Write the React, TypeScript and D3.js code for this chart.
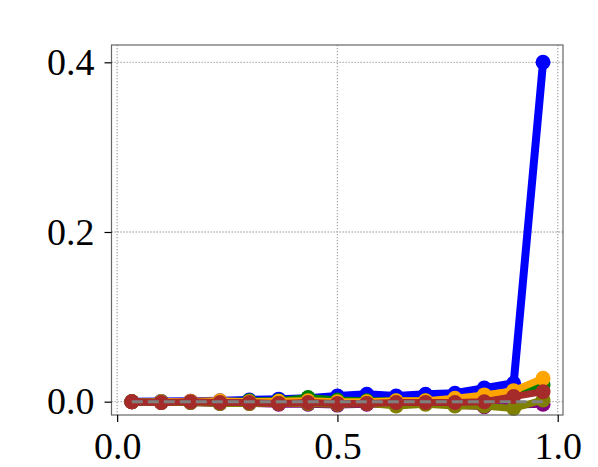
import * as d3 from "d3";
import { useEffect, useRef } from "react";

const width = 598;
const height = 467;
const margin = { top: 45, right: 35, bottom: 52, left: 111.5 };

const xValues = [
  0.0333, 0.1, 0.1667, 0.2333, 0.3, 0.3667, 0.4333, 0.5, 0.5667, 0.6333, 0.7,
  0.7667, 0.8333, 0.9, 0.9667,
];

const blueValues = [
  0, 0.0003, 0.0005, 0.001, 0.002, 0.003, 0.004, 0.0067, 0.0087, 0.0067,
  0.0087, 0.0099, 0.016, 0.0217, 0.4,
];
const greenValues = [
  0, 0, 0, 0, 0.001, 0.001, 0.005, 0.002, 0.001, 0.001, 0.001, 0.002, 0.004,
  0.009, 0.02,
];
const orangeValues = [
  0, 0, 0.0005, 0.001, 0, 0.0005, 0.001, 0, 0, 0.001, 0.001, 0.004, 0.008,
  0.013, 0.0275,
];
const purpleValues = [
  0, -0.001, -0.001, -0.002, -0.002, -0.003, -0.003, -0.004, -0.003, -0.003,
  -0.002, -0.004, -0.006, -0.004, -0.003,
];
const oliveValues = [
  0, -0.001, -0.001, -0.002, -0.002, -0.002, -0.002, -0.003, -0.002, -0.005,
  -0.003, -0.005, -0.005, -0.008, 0.002,
];
const brownValues = [
  0, -0.001, 0, -0.001, -0.001, -0.002, -0.001, -0.002, -0.002, -0.001,
  -0.001, -0.001, 0, 0.006, 0.0118,
];
const baselineValues = [0, 0, 0, 0, 0, 0, 0, 0, 0, 0, 0, 0, 0, 0, 0];

const seriesList = [
  { name: "blue", color: "#0000ff", values: blueValues, lineWidth: 8 },
  { name: "green", color: "#008000", values: greenValues, lineWidth: 7 },
  { name: "orange", color: "#ffa500", values: orangeValues, lineWidth: 7 },
  { name: "purple", color: "#800080", values: purpleValues, lineWidth: 7 },
  { name: "olive", color: "#808000", values: oliveValues, lineWidth: 7 },
  { name: "brown", color: "#a52a2a", values: brownValues, lineWidth: 7 },
];

const xTicks = [0, 0.5, 1.0];
const yTicks = [0, 0.2, 0.4];

export default function App() {
  const svgRef = useRef<SVGSVGElement | null>(null);

  useEffect(() => {
    if (!svgRef.current) return;
    document.body.style.margin = "0";
    drawChart(svgRef.current);
  }, []);

  return (
    <svg
      ref={svgRef}
      width={width}
      height={height}
      style={{ display: "block", background: "#ffffff" }}
    />
  );
}

function drawChart(svgElement: SVGSVGElement) {
  const svg = d3.select(svgElement);
  svg.selectAll("*").remove();

  const plotRight = width - margin.right;
  const plotBottom = height - margin.bottom;
  const fontFamily = "'Liberation Serif', 'Times New Roman', serif";

  const xScale = d3
    .scaleLinear()
    .domain([-0.0128, 1.012])
    .range([margin.left, plotRight]);
  const yScale = d3
    .scaleLinear()
    .domain([-0.0157, 0.4204])
    .range([plotBottom, margin.top]);

  // grid
  const grid = svg.append("g");
  grid
    .selectAll(".x-grid")
    .data(xTicks)
    .join("line")
    .attr("x1", (d) => xScale(d))
    .attr("x2", (d) => xScale(d))
    .attr("y1", margin.top)
    .attr("y2", plotBottom)
    .attr("stroke", "#a8a8a8")
    .attr("stroke-width", 1.3)
    .attr("stroke-dasharray", "1.3,1.7");
  grid
    .selectAll(".y-grid")
    .data(yTicks)
    .join("line")
    .attr("x1", margin.left)
    .attr("x2", plotRight)
    .attr("y1", (d) => yScale(d))
    .attr("y2", (d) => yScale(d))
    .attr("stroke", "#a8a8a8")
    .attr("stroke-width", 1.3)
    .attr("stroke-dasharray", "1.3,1.7");

  const line = d3
    .line<number>()
    .x((_, i) => xScale(xValues[i]))
    .y((d) => yScale(d));

  seriesList.forEach((series) => {
    const group = svg.append("g");
    group
      .append("path")
      .datum(series.values)
      .attr("d", line)
      .attr("fill", "none")
      .attr("stroke", series.color)
      .attr("stroke-width", series.lineWidth)
      .attr("stroke-linejoin", "round");
    group
      .selectAll("circle")
      .data(series.values)
      .join("circle")
      .attr("cx", (_, i) => xScale(xValues[i]))
      .attr("cy", (d) => yScale(d))
      .attr("r", 7.5)
      .attr("fill", series.color);
  });

  svg
    .append("path")
    .datum(baselineValues)
    .attr("d", line)
    .attr("fill", "none")
    .attr("stroke", "#808080")
    .attr("stroke-width", 3)
    .attr("stroke-dasharray", "11,5");

  // frame
  svg
    .append("rect")
    .attr("x", margin.left)
    .attr("y", margin.top)
    .attr("width", plotRight - margin.left)
    .attr("height", plotBottom - margin.top)
    .attr("fill", "none")
    .attr("stroke", "#666666")
    .attr("stroke-width", 1.2);

  const xAxis = svg
    .append("g")
    .attr("transform", `translate(0, ${plotBottom})`)
    .call(
      d3
        .axisBottom(xScale)
        .tickValues(xTicks)
        .tickFormat(d3.format(".1f"))
        .tickSize(7)
        .tickPadding(10)
    );
  const yAxis = svg
    .append("g")
    .attr("transform", `translate(${margin.left}, 0)`)
    .call(
      d3
        .axisLeft(yScale)
        .tickValues(yTicks)
        .tickFormat(d3.format(".1f"))
        .tickSize(7)
        .tickPadding(10)
    );

  [xAxis, yAxis].forEach((axis) => {
    axis.select(".domain").remove();
    axis.selectAll(".tick line").attr("stroke", "#000000").attr("stroke-width", 1.2);
    axis
      .selectAll(".tick text")
      .attr("fill", "#000000")
      .style("font-family", fontFamily)
      .style("font-size", "38px");
  });
}
